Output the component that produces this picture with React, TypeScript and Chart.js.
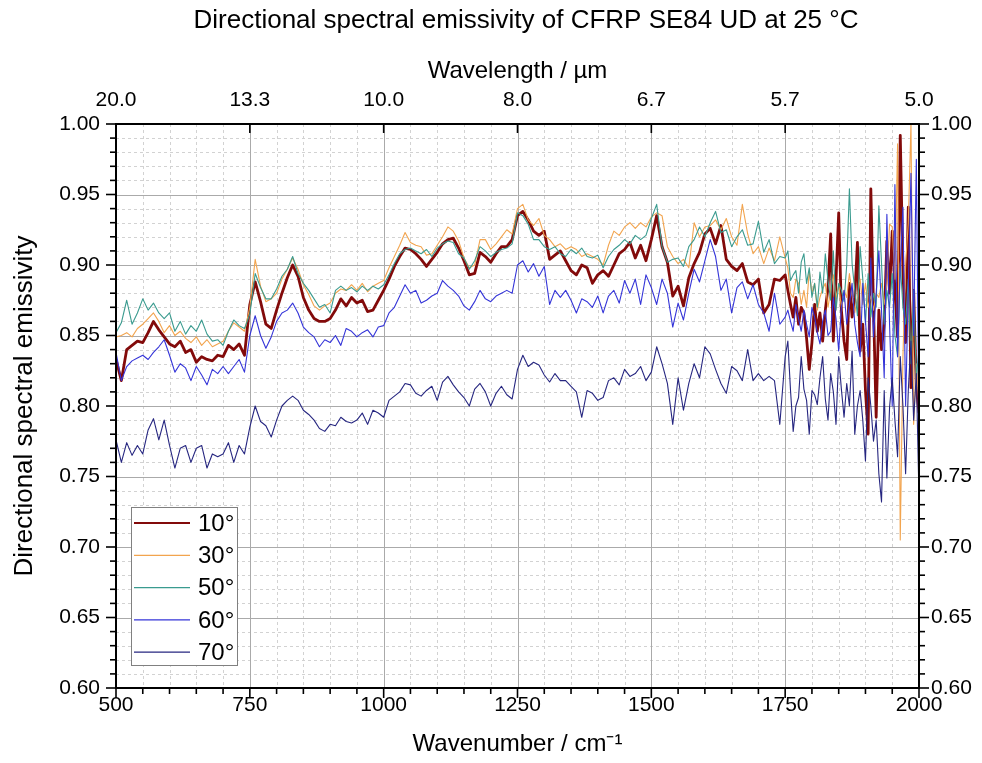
import React, { useEffect, useRef } from "react";
import { Chart, registerables } from "chart.js";

Chart.register(...registerables);

// ---- x grid (wavenumber, cm^-1): 10 cm^-1 steps up to 1740, 5 cm^-1 steps in the noisy tail
const coarseWavenumbers: number[] = [];
for (let w = 500; w < 1750; w += 10) coarseWavenumbers.push(w);
const fineWavenumbers: number[] = [];
for (let w = 1750; w <= 2000; w += 5) fineWavenumbers.push(w);
const wavenumbers = [...coarseWavenumbers, ...fineWavenumbers];

// ---- tick values / labels
const wavenumberTicks = [500, 750, 1000, 1250, 1500, 1750, 2000];
const wavenumberLabels = ["500", "750", "1000", "1250", "1500", "1750", "2000"];
const wavelengthLabels = ["20.0", "13.3", "10.0", "8.0", "6.7", "5.7", "5.0"];
const emissivityTicks = [0.6, 0.65, 0.7, 0.75, 0.8, 0.85, 0.9, 0.95, 1.0];
const emissivityLabels = ["0.60", "0.65", "0.70", "0.75", "0.80", "0.85", "0.90", "0.95", "1.00"];

// ---- series
const emis10 = [
  0.833, 0.818, 0.840, 0.843, 0.846, 0.845, 0.852, 0.860, 0.854, 0.849,
  0.844, 0.842, 0.846, 0.838, 0.840, 0.831, 0.835, 0.833, 0.832, 0.836,
  0.835, 0.843, 0.840, 0.844, 0.836, 0.872, 0.888, 0.874, 0.858, 0.855,
  0.868, 0.880, 0.891, 0.900, 0.892, 0.877, 0.868, 0.862, 0.860, 0.860,
  0.862, 0.868, 0.876, 0.871, 0.877, 0.873, 0.875, 0.867, 0.868, 0.875,
  0.882, 0.890, 0.899, 0.906, 0.912, 0.911, 0.908, 0.904, 0.899, 0.904,
  0.909, 0.915, 0.918, 0.919, 0.912, 0.903, 0.893, 0.894, 0.909, 0.906,
  0.902, 0.908, 0.913, 0.913, 0.918, 0.935, 0.938, 0.932, 0.924, 0.921,
  0.924, 0.904, 0.907, 0.910, 0.903, 0.896, 0.893, 0.900, 0.898, 0.887,
  0.893, 0.896, 0.892, 0.900, 0.908, 0.911, 0.916, 0.905, 0.914, 0.903,
  0.918, 0.935, 0.913, 0.902, 0.878, 0.885, 0.871, 0.891, 0.901, 0.909,
  0.922, 0.926, 0.915, 0.928, 0.904, 0.899, 0.896, 0.901, 0.888, 0.886,
  0.890, 0.866, 0.872, 0.890, 0.889,
  0.893, 0.882, 0.872, 0.863, 0.877, 0.858, 0.870, 0.866, 0.848, 0.826,
  0.845, 0.872, 0.853, 0.866, 0.846, 0.868, 0.884, 0.922, 0.846, 0.890,
  0.937, 0.868, 0.846, 0.833, 0.887, 0.863, 0.877, 0.916, 0.839, 0.858,
  0.811, 0.780, 0.954, 0.870, 0.792, 0.868, 0.840, 0.858, 0.917, 0.880,
  0.924, 0.882, 0.849, 0.992, 0.896, 0.845, 0.941, 0.813, 0.882, 0.813,
  0.795,
];

const emis30 = [
  0.849, 0.850, 0.852, 0.849, 0.855, 0.858, 0.862, 0.866, 0.860, 0.852,
  0.857, 0.850, 0.853, 0.848, 0.845, 0.849, 0.843, 0.847, 0.842, 0.844,
  0.846, 0.853, 0.859, 0.856, 0.853, 0.870, 0.904, 0.885, 0.874, 0.876,
  0.880, 0.890, 0.897, 0.905, 0.897, 0.886, 0.879, 0.871, 0.868, 0.871,
  0.873, 0.880, 0.883, 0.882, 0.886, 0.882, 0.887, 0.881, 0.885, 0.887,
  0.889, 0.898, 0.906, 0.914, 0.923, 0.916, 0.914, 0.913, 0.907, 0.908,
  0.914, 0.920, 0.927, 0.924, 0.917, 0.905, 0.898, 0.900, 0.918, 0.918,
  0.911, 0.915, 0.920, 0.925, 0.922, 0.940, 0.943, 0.932, 0.928, 0.933,
  0.921, 0.918, 0.913, 0.915, 0.911, 0.913, 0.911, 0.906, 0.908, 0.906,
  0.904, 0.900, 0.914, 0.924, 0.921, 0.927, 0.930, 0.926, 0.930, 0.927,
  0.934, 0.937, 0.935, 0.913, 0.906, 0.901, 0.904, 0.898, 0.930, 0.920,
  0.927, 0.928, 0.932, 0.925, 0.933, 0.920, 0.914, 0.943, 0.922, 0.908,
  0.913, 0.901, 0.912, 0.903, 0.920,
  0.905, 0.898, 0.880, 0.877, 0.890, 0.887, 0.872, 0.882, 0.870, 0.896,
  0.880, 0.887, 0.868, 0.877, 0.883, 0.887, 0.870, 0.882, 0.893, 0.877,
  0.886, 0.870, 0.882, 0.877, 0.894, 0.880, 0.866, 0.877, 0.890, 0.872,
  0.887, 0.870, 0.878, 0.868, 0.880, 0.877, 0.887, 0.872, 0.887, 0.929,
  0.927, 0.890, 0.986, 0.705, 0.835, 0.900, 0.930, 1.000, 0.787, 0.830,
  0.800,
];

const emis50 = [
  0.852, 0.859, 0.875, 0.858, 0.866, 0.876, 0.868, 0.873, 0.866, 0.862,
  0.866, 0.853, 0.860, 0.851, 0.857, 0.853, 0.861, 0.851, 0.846, 0.847,
  0.843, 0.853, 0.861, 0.857, 0.855, 0.865, 0.894, 0.884, 0.876, 0.876,
  0.883, 0.892, 0.897, 0.906, 0.894, 0.887, 0.882, 0.876, 0.870, 0.872,
  0.866, 0.882, 0.885, 0.882, 0.884, 0.881, 0.885, 0.882, 0.885, 0.883,
  0.886, 0.893, 0.901, 0.908, 0.911, 0.912, 0.910, 0.908, 0.911, 0.906,
  0.912, 0.915, 0.917, 0.916, 0.908, 0.905, 0.897, 0.903, 0.913, 0.910,
  0.906, 0.909, 0.911, 0.912, 0.915, 0.937, 0.935, 0.929, 0.918, 0.918,
  0.913, 0.911, 0.913, 0.908, 0.906, 0.911, 0.908, 0.912, 0.906, 0.905,
  0.907, 0.898, 0.906, 0.911, 0.914, 0.918, 0.915, 0.921, 0.918, 0.921,
  0.933, 0.943, 0.913, 0.902, 0.904, 0.905, 0.899, 0.913, 0.918, 0.927,
  0.920, 0.930, 0.938, 0.923, 0.925, 0.913, 0.920, 0.925, 0.914, 0.915,
  0.931, 0.909, 0.918, 0.901, 0.906,
  0.905, 0.910, 0.889, 0.893, 0.896, 0.880, 0.902, 0.908, 0.887, 0.898,
  0.877, 0.887, 0.870, 0.895, 0.880, 0.908, 0.889, 0.875, 0.910, 0.868,
  0.887, 0.882, 0.874, 0.900, 0.954, 0.901, 0.882, 0.864, 0.913, 0.890,
  0.858, 0.894, 0.863, 0.880, 0.870, 0.942, 0.901, 0.858, 0.882, 0.870,
  0.894, 0.850, 0.835, 0.901, 0.870, 0.858, 0.890, 0.830, 0.882, 0.820,
  0.840,
];

const emis60 = [
  0.838, 0.818, 0.828, 0.832, 0.834, 0.836, 0.833, 0.838, 0.842, 0.847,
  0.836, 0.824, 0.830, 0.827, 0.818, 0.828, 0.822, 0.815, 0.826, 0.823,
  0.828, 0.823, 0.828, 0.833, 0.824, 0.850, 0.864, 0.850, 0.841, 0.849,
  0.860, 0.866, 0.868, 0.873, 0.866, 0.856, 0.852, 0.849, 0.842, 0.847,
  0.845, 0.850, 0.843, 0.855, 0.853, 0.849, 0.852, 0.854, 0.849, 0.856,
  0.857, 0.866, 0.870, 0.878, 0.886, 0.880, 0.882, 0.873, 0.875, 0.878,
  0.880, 0.889, 0.885, 0.882, 0.878, 0.871, 0.868, 0.874, 0.882, 0.876,
  0.874, 0.878, 0.880, 0.882, 0.880, 0.900, 0.903, 0.895, 0.901, 0.892,
  0.899, 0.872, 0.882, 0.877, 0.882, 0.875, 0.866, 0.876, 0.874, 0.870,
  0.878, 0.866, 0.878, 0.882, 0.873, 0.889, 0.880, 0.890, 0.872, 0.893,
  0.884, 0.872, 0.890, 0.880, 0.856, 0.873, 0.861, 0.880, 0.897, 0.888,
  0.903, 0.918, 0.906, 0.882, 0.890, 0.866, 0.884, 0.888, 0.876, 0.886,
  0.872, 0.866, 0.853, 0.880, 0.858,
  0.863, 0.868, 0.860, 0.853, 0.872, 0.862, 0.853, 0.868, 0.858, 0.849,
  0.870, 0.863, 0.852, 0.844, 0.860, 0.868, 0.850, 0.853, 0.877, 0.862,
  0.839, 0.870, 0.882, 0.858, 0.872, 0.887, 0.858, 0.845, 0.835, 0.887,
  0.860, 0.835, 0.905, 0.849, 0.880, 0.910, 0.868, 0.820, 0.936, 0.858,
  0.800, 0.957, 0.835, 0.900, 0.941, 0.800, 0.882, 0.965, 0.850, 0.975,
  0.780,
];

const emis70 = [
  0.776, 0.760, 0.774, 0.765, 0.772, 0.766, 0.783, 0.791, 0.776, 0.790,
  0.772, 0.756, 0.770, 0.772, 0.760, 0.770, 0.772, 0.756, 0.766, 0.764,
  0.766, 0.774, 0.760, 0.772, 0.766, 0.785, 0.800, 0.789, 0.786, 0.778,
  0.790, 0.800, 0.804, 0.807, 0.804, 0.797, 0.794, 0.790, 0.784, 0.782,
  0.787, 0.786, 0.792, 0.789, 0.788, 0.790, 0.795, 0.787, 0.797, 0.795,
  0.792, 0.804, 0.807, 0.810, 0.816, 0.815, 0.809, 0.807, 0.811, 0.814,
  0.804, 0.817, 0.821, 0.815, 0.810, 0.806, 0.800, 0.812, 0.816, 0.810,
  0.800, 0.809, 0.814, 0.808, 0.805, 0.826, 0.836, 0.828, 0.831, 0.829,
  0.822, 0.817, 0.823, 0.818, 0.818, 0.814, 0.810, 0.792, 0.811, 0.809,
  0.804, 0.806, 0.818, 0.820, 0.815, 0.826, 0.821, 0.823, 0.828, 0.818,
  0.824, 0.842, 0.830, 0.816, 0.787, 0.820, 0.797, 0.816, 0.830, 0.820,
  0.842, 0.837, 0.826, 0.816, 0.809, 0.828, 0.825, 0.818, 0.840, 0.818,
  0.823, 0.818, 0.821, 0.818, 0.787,
  0.835, 0.846, 0.811, 0.782, 0.800, 0.806, 0.835, 0.812, 0.804, 0.780,
  0.811, 0.808, 0.801, 0.820, 0.835, 0.805, 0.790, 0.823, 0.810, 0.787,
  0.835, 0.812, 0.792, 0.816, 0.800, 0.839, 0.780, 0.800, 0.811, 0.790,
  0.761, 0.820, 0.800, 0.775, 0.790, 0.752, 0.732, 0.811, 0.749, 0.799,
  0.820, 0.790, 0.764, 0.835, 0.800, 0.752, 0.811, 0.846, 0.790, 0.823,
  0.735,
];

const seriesLabels = ["10°", "30°", "50°", "60°", "70°"];
const seriesValues = [emis10, emis30, emis50, emis60, emis70];
const seriesColors = ["#820a0a", "#f2a44e", "#3a9b8f", "#3434d8", "#262680"];
const seriesWidths = [2.8, 1.1, 1.1, 1.1, 1.1];
const seriesOrder = [5, 4, 3, 2, 1];

const FONT = "'Liberation Sans', Arial, sans-serif";
const TEXT = "#000000";

const gridPlugin = {
  id: "customGrid",
  beforeDatasetsDraw(chart: any) {
    const { ctx, chartArea } = chart;
    const { left, right, top, bottom } = chartArea;
    const x = chart.scales.x;
    const y = chart.scales.y;
    ctx.save();
    ctx.lineWidth = 1;
    // minor dashed grid
    ctx.strokeStyle = "#d2d2d2";
    ctx.setLineDash([3, 3]);
    for (let w = 500; w <= 2000; w += 50) {
      if (w % 250 === 0) continue;
      const px = Math.round(x.getPixelForValue(w)) + 0.5;
      ctx.beginPath(); ctx.moveTo(px, top); ctx.lineTo(px, bottom); ctx.stroke();
    }
    for (let i = 60; i <= 100; i++) {
      if (i % 5 === 0) continue;
      const py = Math.round(y.getPixelForValue(i / 100)) + 0.5;
      ctx.beginPath(); ctx.moveTo(left, py); ctx.lineTo(right, py); ctx.stroke();
    }
    // major solid grid
    ctx.setLineDash([]);
    ctx.strokeStyle = "#aaaaaa";
    for (const w of wavenumberTicks) {
      const px = Math.round(x.getPixelForValue(w)) + 0.5;
      ctx.beginPath(); ctx.moveTo(px, top); ctx.lineTo(px, bottom); ctx.stroke();
    }
    for (const v of emissivityTicks) {
      const py = Math.round(y.getPixelForValue(v)) + 0.5;
      ctx.beginPath(); ctx.moveTo(left, py); ctx.lineTo(right, py); ctx.stroke();
    }
    ctx.restore();
  },
};

const framePlugin = {
  id: "customFrame",
  afterDatasetsDraw(chart: any) {
    const { ctx, chartArea } = chart;
    const { left, right, top, bottom } = chartArea;
    const x = chart.scales.x;
    const y = chart.scales.y;
    ctx.save();
    ctx.strokeStyle = "#000";
    ctx.lineWidth = 2;
    ctx.strokeRect(left, top, right - left, bottom - top);
    ctx.lineWidth = 1.6;
    // bottom ticks (outward)
    for (let w = 500; w <= 2000; w += 50) {
      const px = x.getPixelForValue(w);
      const len = w % 250 === 0 ? 10 : 6;
      ctx.beginPath(); ctx.moveTo(px, bottom); ctx.lineTo(px, bottom + len); ctx.stroke();
    }
    // top ticks (inward, majors)
    for (const w of wavenumberTicks) {
      const px = x.getPixelForValue(w);
      ctx.beginPath(); ctx.moveTo(px, top); ctx.lineTo(px, top + 9); ctx.stroke();
    }
    // left and right ticks (outward)
    for (let i = 60; i <= 100; i++) {
      const py = y.getPixelForValue(i / 100);
      const len = i % 5 === 0 ? 10 : 6;
      ctx.beginPath(); ctx.moveTo(left, py); ctx.lineTo(left - len, py); ctx.stroke();
      ctx.beginPath(); ctx.moveTo(right, py); ctx.lineTo(right + len, py); ctx.stroke();
    }
    ctx.restore();
  },
  afterDraw(chart: any) {
    const { ctx } = chart;
    ctx.save();
    // chart title
    ctx.fillStyle = TEXT;
    ctx.font = `26px ${FONT}`;
    ctx.textAlign = "center";
    ctx.textBaseline = "middle";
    ctx.fillText("Directional spectral emissivity of CFRP SE84 UD at 25 °C", 526, 21);
    // legend
    const bx = 131, by = 507, bw = 106, bh = 158;
    ctx.fillStyle = "#ffffff";
    ctx.fillRect(bx, by, bw, bh);
    ctx.strokeStyle = "#808080";
    ctx.lineWidth = 1;
    ctx.strokeRect(bx + 0.5, by + 0.5, bw, bh);
    ctx.font = `24px ${FONT}`;
    ctx.textAlign = "left";
    ctx.textBaseline = "middle";
    chart.data.datasets.forEach((ds: any, i: number) => {
      const ly = by + 16 + i * 32.3;
      ctx.strokeStyle = ds.borderColor;
      ctx.lineWidth = i === 0 ? 2.2 : 1.2;
      ctx.beginPath(); ctx.moveTo(bx + 3, ly); ctx.lineTo(bx + 59, ly); ctx.stroke();
      ctx.fillStyle = TEXT;
      ctx.fillText(ds.label, bx + 67, ly + 1);
    });
    ctx.restore();
  },
};

export default function App() {
  const canvasRef = useRef<HTMLCanvasElement | null>(null);

  useEffect(() => {
    document.body.style.margin = "0";
    const canvas = canvasRef.current;
    if (!canvas) return;

    const datasets = seriesLabels.map((label, s) => ({
      label,
      data: wavenumbers.map((w, i) => ({ x: w, y: seriesValues[s][i] })),
      borderColor: seriesColors[s],
      backgroundColor: seriesColors[s],
      borderWidth: seriesWidths[s],
      pointRadius: 0,
      tension: 0,
      fill: false,
      order: seriesOrder[s],
      borderJoinStyle: "round" as const,
    }));

    const tickFont = { family: FONT, size: 21 };
    const titleFont = { family: FONT, size: 24 };
    const setTicks = (vals: number[]) => (scale: any) => {
      scale.ticks = vals.map((v) => ({ value: v }));
    };

    const chart = new Chart(canvas, {
      type: "line",
      data: { datasets },
      options: {
        animation: false,
        responsive: false,
        maintainAspectRatio: false,
        layout: { padding: 0 },
        plugins: {
          legend: { display: false },
          tooltip: { enabled: false },
          title: { display: false },
        },
        scales: {
          x: {
            type: "linear",
            position: "bottom",
            min: 500,
            max: 2000,
            afterBuildTicks: setTicks(wavenumberTicks),
            ticks: {
              font: tickFont, color: TEXT, padding: 5, maxRotation: 0, autoSkip: false,
              callback: (_v: any, idx: number) => wavenumberLabels[idx],
            },
            grid: { display: false, drawTicks: false },
            border: { display: false },
            title: { display: true, text: "Wavenumber / cm⁻¹", font: titleFont, color: TEXT, padding: { top: 0, bottom: 4 } },
            afterFit: (s: any) => { s.height = 75; },
          },
          xTop: {
            type: "linear",
            position: "top",
            min: 500,
            max: 2000,
            afterBuildTicks: setTicks(wavenumberTicks),
            ticks: {
              font: tickFont, color: TEXT, padding: 11, maxRotation: 0, autoSkip: false,
              callback: (_v: any, idx: number) => wavelengthLabels[idx],
            },
            grid: { display: false, drawTicks: false },
            border: { display: false },
            title: { display: true, text: "Wavelength / µm", font: titleFont, color: TEXT, padding: { top: 57, bottom: 0 } },
            afterFit: (s: any) => { s.height = 124; },
          },
          y: {
            type: "linear",
            position: "left",
            min: 0.6,
            max: 1.0,
            afterBuildTicks: setTicks(emissivityTicks),
            ticks: {
              font: tickFont, color: TEXT, padding: 16,
              callback: (_v: any, idx: number) => emissivityLabels[idx],
            },
            grid: { display: false, drawTicks: false },
            border: { display: false },
            title: {
              display: true, text: "Directional spectral emissivity",
              font: { family: FONT, size: 26 }, color: TEXT, padding: { top: 9, bottom: 0 },
            },
            afterFit: (s: any) => { s.width = 116; },
          },
          y2: {
            type: "linear",
            position: "right",
            min: 0.6,
            max: 1.0,
            afterBuildTicks: setTicks(emissivityTicks),
            ticks: {
              font: tickFont, color: TEXT, padding: 12,
              callback: (_v: any, idx: number) => emissivityLabels[idx],
            },
            grid: { display: false, drawTicks: false },
            border: { display: false },
            afterFit: (s: any) => { s.width = 63; },
          },
        },
      },
      plugins: [gridPlugin, framePlugin],
    } as any);

    return () => chart.destroy();
  }, []);

  return (
    <div style={{ width: 982, height: 763 }}>
      <canvas ref={canvasRef} width={982} height={763} style={{ display: "block" }} />
    </div>
  );
}
